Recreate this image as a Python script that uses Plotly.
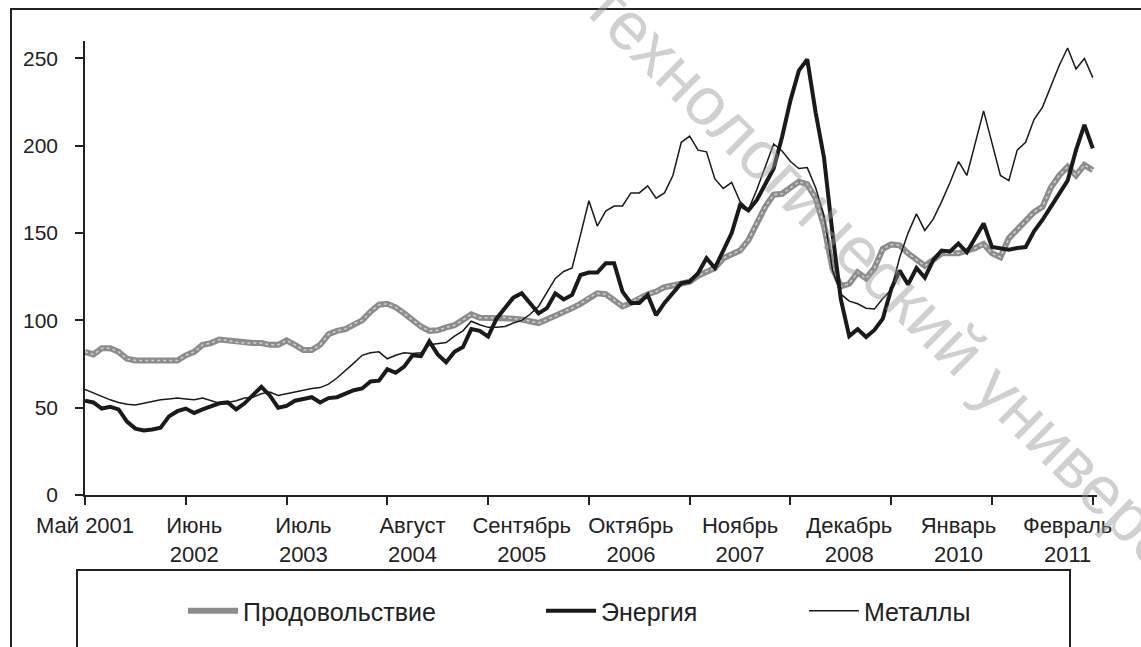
import plotly.graph_objects as go

# ---------------- data (monthly index, May 2001 = 0 ... May 2011 = 120) ----------------
food = [82, 80.5, 84, 84, 82, 78, 77, 77, 77, 77, 77, 77, 80, 82, 86, 87, 89, 88.5, 87.5, 87,
        87, 87, 86, 86, 88.5, 86, 83, 83, 86, 92, 94, 95, 98, 100, 105, 109, 109.5, 107.5, 104, 100,
        96.5, 94, 94.3, 96, 97.2, 100.3, 103.5, 101.5, 101.5, 101.6, 101.6, 101, 100.5, 99.5, 98.5, 100.5, 102.5, 105, 107, 109.5,
        113, 115.5, 115, 111.7, 108, 110, 113, 115, 116.5, 119, 120, 121, 122.2, 125.5, 128, 130, 135.6, 138, 140, 146,
        156, 165, 172, 172.5, 176, 179.4, 178, 170, 154, 130, 119.5, 121, 127.5, 124, 130, 141, 143.5, 143, 138.4, 134.6,
        131.2, 134.6, 138.4, 138.4, 138.4, 140, 141.3, 143.8, 138.4, 136.2, 147, 152, 157, 162, 165, 176, 183, 188, 183, 189,
        186]
energy = [54, 53, 49.5, 50.5, 49, 42, 38, 37, 37.5, 38.5, 45, 48, 49.5, 47, 49, 50.5, 52.5, 53, 49, 52.5,
          57, 62, 57, 50, 51, 54, 55, 56, 53, 55.5, 56, 58, 60, 61, 65, 65.5, 72, 70, 73.5, 80,
          79.5, 88, 80.5, 76, 82, 84.7, 95, 94, 90.7, 101, 107, 113, 115.5, 110, 104, 107, 115.5, 112, 114.6, 126,
          127.4, 127.4, 132.7, 132.7, 116.5, 110, 110, 114.6, 103, 110, 115.5, 121.3, 122.2, 127, 135.6, 130, 140, 150, 166, 163,
          169, 178, 187, 205, 226, 243, 249.5, 219, 193, 150, 112, 91, 95, 90.5, 94.5, 101, 118, 128.5, 120.5, 130,
          124.5, 134.5, 140, 139.5, 144, 139, 147, 155.5, 142, 141, 140.5, 141.5, 142, 151, 157.5, 165, 172, 180, 197.5, 212,
          198.5]
metals = [60.5, 58.5, 56.5, 54.5, 53, 52, 51.5, 52.5, 53.5, 54.5, 55, 55.5, 55, 54.5, 55.5, 54, 52.5, 53, 54, 55.5,
          56, 58, 59, 57, 58, 59, 60, 61, 61.5, 63.5, 67, 71, 75.5, 80, 81.5, 82, 78, 80, 81.5, 81,
          81.5, 86, 86.5, 87.3, 91, 94, 99.5, 97.5, 96, 96, 96.5, 98.5, 100, 103.5, 108, 116, 124, 128, 130, 149,
          168.5, 154, 162.6, 165.5, 165.5, 173, 173, 177, 170, 173, 183, 202, 205.5, 197.5, 196.5, 181, 175.6, 179, 168, 163.5,
          175, 188, 201, 197, 191, 187, 187.5, 176, 160, 129, 115, 111, 109.5, 107, 106.5, 112.5, 117.5, 136, 150, 161,
          151.5, 158, 168, 179, 191, 183, 201, 220, 201.5, 183, 180, 197.5, 202, 215, 222, 234, 246, 256, 244, 250,
          239]
months = list(range(len(food)))

series_names = ["Продовольствие", "Энергия", "Металлы"]
label_pos = [0, 13, 26, 39, 52, 65, 78, 91, 104, 117]
label_text = ["Май 2001", "Июнь<br>2002", "Июль<br>2003", "Август<br>2004", "Сентябрь<br>2005",
              "Октябрь<br>2006", "Ноябрь<br>2007", "Декабрь<br>2008", "Январь<br>2010", "Февраль<br>2011"]
tick_pos = list(range(0, 121, 12))
y_ticks = [0, 50, 100, 150, 200, 250]
watermark = "технологический университет"

# ---------------- layout helpers (pixel geometry of the reference) ----------------
W, H = 1141, 647
L, R, T, B = 85, 44, 41, 152
PW, PH = W - L - R, H - T - B
def px(x):
    return (x - L) / PW
def py(y):
    return (H - B - y) / PH

DARK = "#222222"
FONT = "Liberation Sans, Arial, sans-serif"

fig = go.Figure()
fig.add_trace(go.Scatter(x=months, y=food, mode="lines", name=series_names[0],
                         line=dict(color="#8c8c8c", width=6), legend="legend"))
fig.add_trace(go.Scatter(x=months, y=food, mode="lines", showlegend=False, hoverinfo="skip",
                         line=dict(color="#d0d0d0", width=1.5, dash="dot")))
fig.add_trace(go.Scatter(x=months, y=energy, mode="lines", name=series_names[1],
                         line=dict(color="#1a1a1a", width=4), legend="legend2"))
fig.add_trace(go.Scatter(x=months, y=metals, mode="lines", name=series_names[2],
                         line=dict(color="#1a1a1a", width=1.5), legend="legend3"))
# invisible trace to activate the label axis
fig.add_trace(go.Scatter(x=[0], y=[0], xaxis="x2", mode="markers", marker=dict(opacity=0),
                         showlegend=False, hoverinfo="skip"))

xr = [0, 120.5]
fig.update_layout(
    width=W, height=H,
    margin=dict(l=L, r=R, t=T, b=B, autoexpand=False),
    paper_bgcolor="white", plot_bgcolor="white",
    font=dict(family=FONT, color=DARK, size=21),
    xaxis=dict(range=xr, tickmode="array", tickvals=tick_pos, showticklabels=False,
               ticks="outside", ticklen=8, tickwidth=1.5, tickcolor=DARK,
               showline=True, linecolor=DARK, linewidth=1.5, showgrid=False, zeroline=False),
    xaxis2=dict(range=xr, overlaying="x", side="bottom", tickmode="array",
                tickvals=label_pos, ticktext=label_text, ticks="", showline=False,
                showgrid=False, zeroline=False, tickangle=0,
                tickfont=dict(family=FONT, size=22, color=DARK), ticklabelstandoff=15),
    yaxis=dict(range=[0, 260], tickmode="array", tickvals=y_ticks,
               ticks="outside", ticklen=8, tickwidth=1.5, tickcolor=DARK,
               showline=True, linecolor=DARK, linewidth=1.5, showgrid=False, zeroline=False,
               tickfont=dict(family=FONT, size=21, color=DARK), ticklabelstandoff=13),
    showlegend=True,
)
legend_common = dict(orientation="h", yanchor="middle", xanchor="left", y=py(611),
                     bgcolor="rgba(0,0,0,0)", borderwidth=0, itemwidth=50,
                     font=dict(family=FONT, size=25, color=DARK))
fig.update_layout(legend=dict(x=px(183), **legend_common),
                  legend2=dict(x=px(541), **legend_common),
                  legend3=dict(x=px(804), **legend_common))

# outer frame and legend box
fig.add_shape(type="rect", xref="paper", yref="paper", x0=px(11), x1=px(1200), y0=py(700), y1=py(9),
              line=dict(color=DARK, width=2), layer="below")
fig.add_shape(type="rect", xref="paper", yref="paper", x0=px(77), x1=px(1070), y0=py(700), y1=py(570),
              line=dict(color=DARK, width=2), layer="below")

# watermark
fig.add_annotation(text=watermark, xref="paper", yref="paper", x=px(931), y=py(320),
                   xanchor="center", yanchor="middle", showarrow=False, textangle=44.5,
                   font=dict(family=FONT, size=68, color="rgba(150,150,150,0.45)"))

fig.write_html("out.html", config={"displayModeBar": False},
               post_script="document.body.style.margin='0';document.body.style.padding='0';")
